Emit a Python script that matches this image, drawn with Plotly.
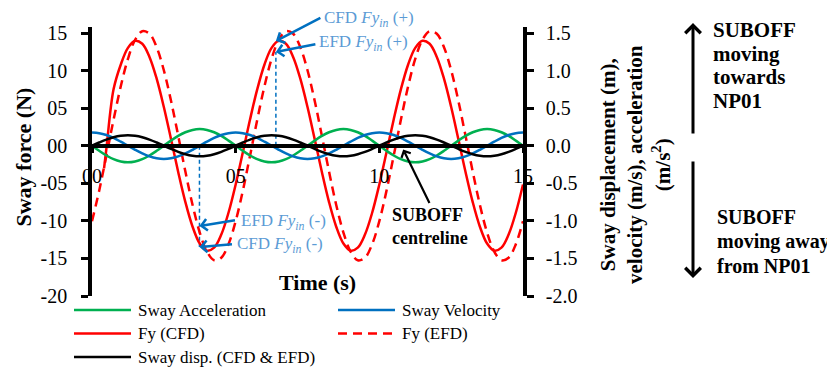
import plotly.graph_objects as go

# ---------------- data ----------------
time_s = [0.0, 0.25, 0.5, 0.75, 1.0, 1.25, 1.5, 1.75, 2.0, 2.25, 2.5, 2.75, 3.0, 3.25, 3.5, 3.75,
          4.0, 4.25, 4.5, 4.75, 5.0, 5.25, 5.5, 5.75, 6.0, 6.25, 6.5, 6.75, 7.0, 7.25, 7.5, 7.75,
          8.0, 8.25, 8.5, 8.75, 9.0, 9.25, 9.5, 9.75, 10.0, 10.25, 10.5, 10.75, 11.0, 11.25, 11.5,
          11.75, 12.0, 12.25, 12.5, 12.75, 13.0, 13.25, 13.5, 13.75, 14.0, 14.25, 14.5, 14.75, 15.0]

time_cfd = [0.42, 0.5, 0.75, 1.0, 1.25, 1.5, 1.75, 2.0, 2.25, 2.5, 2.75, 3.0, 3.25, 3.5, 3.75,
            4.0, 4.25, 4.5, 4.75, 5.0, 5.25, 5.5, 5.75, 6.0, 6.25, 6.5, 6.75, 7.0, 7.25, 7.5, 7.75,
            8.0, 8.25, 8.5, 8.75, 9.0, 9.25, 9.5, 9.75, 10.0, 10.25, 10.5, 10.75, 11.0, 11.25, 11.5,
            11.75, 12.0, 12.25, 12.5, 12.75, 13.0, 13.25, 13.5, 13.75, 14.0, 14.25, 14.5, 14.75, 15.0]

fy_cfd = [-3.0, -0.4, 7.50, 10.78, 13.02, 13.97, 13.57, 11.82, 8.92, 5.15, 0.88, -3.49, -7.50,
          -10.78, -13.02, -13.97, -13.57, -11.82, -8.92,
          -5.15, -0.88, 3.49, 7.50, 10.78, 13.02, 13.97, 13.57, 11.82, 8.92, 5.15, 0.88, -3.49,
          -7.50, -10.78, -13.02, -13.97, -13.57, -11.82, -8.92,
          -5.15, -0.88, 3.49, 7.50, 10.78, 13.02, 13.97, 13.57, 11.82, 8.92, 5.15, 0.88, -3.49,
          -7.50, -10.78, -13.02, -13.97, -13.57, -11.82, -8.92,
          -5.15]

fy_efd = [-10.04, -5.98, -1.33, 3.44, 7.88, 11.55, 14.09, 15.24, 14.90, 13.11, 10.04, 5.98, 1.33,
          -3.44, -7.88, -11.55, -14.09, -15.24, -14.90, -13.11,
          -10.04, -5.98, -1.33, 3.44, 7.88, 11.55, 14.09, 15.24, 14.90, 13.11, 10.04, 5.98, 1.33,
          -3.44, -7.88, -11.55, -14.09, -15.24, -14.90, -13.11,
          -10.04, -5.98, -1.33, 3.44, 7.88, 11.55, 14.09, 15.24, 14.90, 13.11, 10.04, 5.98, 1.33,
          -3.44, -7.88, -11.55, -14.09, -15.24, -14.90, -13.11,
          -10.04]

sway_disp = [0.0, 0.043, 0.082, 0.113, 0.133, 0.140, 0.133, 0.113, 0.082, 0.043,
             0.0, -0.043, -0.082, -0.113, -0.133, -0.140, -0.133, -0.113, -0.082, -0.043,
             0.0, 0.043, 0.082, 0.113, 0.133, 0.140, 0.133, 0.113, 0.082, 0.043,
             0.0, -0.043, -0.082, -0.113, -0.133, -0.140, -0.133, -0.113, -0.082, -0.043,
             0.0, 0.043, 0.082, 0.113, 0.133, 0.140, 0.133, 0.113, 0.082, 0.043,
             0.0, -0.043, -0.082, -0.113, -0.133, -0.140, -0.133, -0.113, -0.082, -0.043,
             0.0]

sway_vel = [0.176, 0.167, 0.142, 0.103, 0.054, 0.0, -0.054, -0.103, -0.142, -0.167,
            -0.176, -0.167, -0.142, -0.103, -0.054, 0.0, 0.054, 0.103, 0.142, 0.167,
            0.176, 0.167, 0.142, 0.103, 0.054, 0.0, -0.054, -0.103, -0.142, -0.167,
            -0.176, -0.167, -0.142, -0.103, -0.054, 0.0, 0.054, 0.103, 0.142, 0.167,
            0.176, 0.167, 0.142, 0.103, 0.054, 0.0, -0.054, -0.103, -0.142, -0.167,
            -0.176, -0.167, -0.142, -0.103, -0.054, 0.0, 0.054, 0.103, 0.142, 0.167,
            0.176]

sway_acc = [0.0, -0.068, -0.130, -0.179, -0.210, -0.221, -0.210, -0.179, -0.130, -0.068,
            0.0, 0.068, 0.130, 0.179, 0.210, 0.221, 0.210, 0.179, 0.130, 0.068,
            0.0, -0.068, -0.130, -0.179, -0.210, -0.221, -0.210, -0.179, -0.130, -0.068,
            0.0, 0.068, 0.130, 0.179, 0.210, 0.221, 0.210, 0.179, 0.130, 0.068,
            0.0, -0.068, -0.130, -0.179, -0.210, -0.221, -0.210, -0.179, -0.130, -0.068,
            0.0, 0.068, 0.130, 0.179, 0.210, 0.221, 0.210, 0.179, 0.130, 0.068,
            0.0]

# inertia-force read points (time, CFD value, EFD value)
fyin_time = [3.74, 6.40]
fyin_cfd = [-13.48, 13.93]
fyin_efd = [-10.69, 12.47]
marker_end = [fyin_cfd[0], fyin_efd[1]]

x_tickvals = [0, 5, 10, 15]
x_ticktext = ["00", "05", "10", "15"]
y_tickvals = [-20, -15, -10, -5, 0, 5, 10, 15]
y_ticktext = ["-20", "-15", "-10", "-05", "00", "05", "10", "15"]
y2_tickvals = [-2.0, -1.5, -1.0, -0.5, 0.0, 0.5, 1.0, 1.5]
y2_ticktext = ["-2.0", "-1.5", "-1.0", "-0.5", "0.0", "0.5", "1.0", "1.5"]

legend_names = ["Sway Acceleration", "Sway Velocity", "Fy (CFD)", "Fy (EFD)",
                "Sway disp. (CFD & EFD)"]

# ---------------- styles ----------------
GREEN = "#00B050"
BLUE = "#0070C0"
RED = "#FF0000"
TXT_BLUE = "#5B9BD5"
FONT = "Liberation Serif, Times New Roman, serif"
EFD_DASH = "9px,6px"

OFF = 8                      # page body margin: figure starts 8px in from the window corner
W, H = 835 - OFF, 367 - OFF
ML, MT = 92 - OFF, 27 - OFF
MR = W - (523 - OFF)
MB = H - (296 - OFF)
PW, PH = W - ML - MR, H - MT - MB
Y_RANGE = [-20, 15.8]
Y2_RANGE = [-2.0, 1.58]


def px(x):
    """window pixel x -> paper fraction"""
    return (x - OFF - ML) / PW


def py(y):
    """window pixel y -> paper fraction"""
    return (H - MB - (y - OFF)) / PH


fig = go.Figure()

fig.add_trace(go.Scatter(x=time_s, y=sway_acc, name=legend_names[0], yaxis="y2",
                         mode="lines", line=dict(color=GREEN, width=2.5, shape="spline")))
fig.add_trace(go.Scatter(x=time_s, y=sway_vel, name=legend_names[1], yaxis="y2",
                         mode="lines", line=dict(color=BLUE, width=2.5, shape="spline")))
fig.add_trace(go.Scatter(x=time_s, y=sway_disp, name=legend_names[4], yaxis="y2",
                         mode="lines", line=dict(color="black", width=2.5, shape="spline")))

mx, my = [], []
for t, e in zip(fyin_time, marker_end):
    mx += [t, t, None]
    my += [0, e, None]
fig.add_trace(go.Scatter(x=mx, y=my, mode="lines", hoverinfo="skip", name="Fy in",
                         line=dict(color=BLUE, width=1.5, dash="4px,3px")))

fig.add_trace(go.Scatter(x=time_cfd, y=fy_cfd, name=legend_names[2], mode="lines",
                         line=dict(color=RED, width=2.5, shape="spline")))
fig.add_trace(go.Scatter(x=time_s, y=fy_efd, name=legend_names[3], mode="lines",
                         line=dict(color=RED, width=2.5, dash=EFD_DASH, shape="spline")))

axis_common = dict(showgrid=False, zeroline=False, showline=True, linecolor="black",
                   linewidth=3.5, ticks="outside", tickcolor="black", tickwidth=3,
                   tickfont=dict(family=FONT, size=20, color="black"))

fig.update_layout(
    width=W, height=H,
    margin=dict(l=ML, r=MR, t=MT, b=MB, pad=0, autoexpand=False),
    paper_bgcolor="white", plot_bgcolor="white",
    font=dict(family=FONT, color="black"),
    showlegend=False,
    xaxis=dict(range=[0, 15], tickvals=x_tickvals, ticktext=x_ticktext, ticklen=6,
               anchor="free", position=20 / 35.8, ticklabelstandoff=6, **axis_common),
    yaxis=dict(range=Y_RANGE, tickvals=y_tickvals, ticktext=y_ticktext, ticklen=7,
               ticklabelstandoff=10, **axis_common),
    yaxis2=dict(range=Y2_RANGE, tickvals=y2_tickvals, ticktext=y2_ticktext, ticklen=7,
                overlaying="y", side="right", ticklabelstandoff=8, **axis_common),
)

# ---------------- legend (drawn as shapes + labels, two columns) ----------------
leg_colors = [GREEN, BLUE, RED, RED, "black"]
leg_dash = ["solid", "solid", "solid", EFD_DASH, "solid"]
leg_col_x = [74, 338]
leg_row_y = [310, 333.5, 357]
shapes = []
ann = []
for i, name in enumerate(legend_names):
    cx = leg_col_x[i % 2]
    ry = leg_row_y[i // 2]
    shapes.append(dict(type="line", xref="paper", yref="paper", x0=px(cx), x1=px(cx + 57),
                       y0=py(ry), y1=py(ry),
                       line=dict(color=leg_colors[i], width=2.5, dash=leg_dash[i])))
    ann.append(dict(text=name, x=px(cx + 62), y=py(ry), xref="paper", yref="paper",
                    xanchor="left", yanchor="middle", showarrow=False,
                    font=dict(size=17, color="black")))

center = dict(xref="paper", yref="paper", xanchor="center", yanchor="middle", showarrow=False)

# axis titles
ann.append(dict(text="<b>Sway force (N)</b>", x=px(23), y=py(157.5), textangle=-90,
                font=dict(size=22), **center))
ann.append(dict(text="<b>Time (s)</b>", x=px(317), y=py(282), font=dict(size=22), **center))
ann.append(dict(text="<b>Sway displacement (m),<br>velocity (m/s), acceleration<br>(m/s<sup>2</sup>)</b>",
                x=px(635), y=py(165), textangle=-90, font=dict(size=21), **center))

# blue Fy_in arrows (tips on the data), texts
arrow_blue = dict(xref="x", yref="y", axref="pixel", ayref="pixel", text="", showarrow=True,
                  arrowhead=4, arrowsize=0.9, arrowwidth=2.5, arrowcolor=BLUE)
ann.append(dict(x=fyin_time[1], y=fyin_cfd[1], ax=46, ay=-24, **arrow_blue))
ann.append(dict(x=fyin_time[1], y=fyin_efd[1], ax=41, ay=-8, **arrow_blue))
ann.append(dict(x=fyin_time[0], y=fyin_efd[0], ax=37, ay=-6, **arrow_blue))
ann.append(dict(x=fyin_time[0], y=fyin_cfd[0], ax=34, ay=-3, **arrow_blue))

blue_txt = dict(xref="paper", yref="paper", showarrow=False, xanchor="left", yanchor="middle",
                font=dict(size=17, color=TXT_BLUE))
ann.append(dict(text="CFD <i>Fy</i><sub><i>in</i></sub> (+)", x=px(322), y=py(19), **blue_txt))
ann.append(dict(text="EFD <i>Fy</i><sub><i>in</i></sub> (+)", x=px(317), y=py(42.5), **blue_txt))
ann.append(dict(text="EFD <i>Fy</i><sub><i>in</i></sub> (-)", x=px(239), y=py(222), **blue_txt))
ann.append(dict(text="CFD <i>Fy</i><sub><i>in</i></sub> (-)", x=px(235), y=py(244.5), **blue_txt))

# SUBOFF centreline
ann.append(dict(x=10.83, y=-0.5, xref="x", yref="y", axref="pixel", ayref="pixel", ax=27, ay=55,
                text="", showarrow=True, arrowhead=4, arrowsize=0.9, arrowwidth=2.2,
                arrowcolor="black"))
ann.append(dict(text="<b>SUBOFF</b>", x=px(427), y=py(215), font=dict(size=18), **center))
ann.append(dict(text="<b>centreline</b>", x=px(430), y=py(237.5), font=dict(size=18), **center))

# right-hand direction arrows and labels
ann.append(dict(x=px(693), y=py(23), xref="paper", yref="paper", axref="pixel", ayref="pixel",
                ax=0, ay=112, text="", showarrow=True, arrowhead=4, arrowsize=1, arrowwidth=3,
                arrowcolor="black"))
ann.append(dict(x=px(693), y=py(278), xref="paper", yref="paper", axref="pixel", ayref="pixel",
                ax=0, ay=-118, text="", showarrow=True, arrowhead=4, arrowsize=1, arrowwidth=3,
                arrowcolor="black"))
for txt, yy in zip(["SUBOFF", "moving", "towards", "NP01"], [30, 53.7, 77.4, 101]):
    ann.append(dict(text="<b>%s</b>" % txt, x=px(710.5), y=py(yy), xref="paper", yref="paper",
                    xanchor="left", yanchor="middle", showarrow=False, font=dict(size=21)))
for txt, yy in zip(["SUBOFF", "moving away", "from NP01"], [216.7, 241, 265.7]):
    ann.append(dict(text="<b>%s</b>" % txt, x=px(714.5), y=py(yy), xref="paper", yref="paper",
                    xanchor="left", yanchor="middle", showarrow=False, font=dict(size=20)))

fig.update_layout(annotations=ann, shapes=shapes)
fig.write_html("out.html")
